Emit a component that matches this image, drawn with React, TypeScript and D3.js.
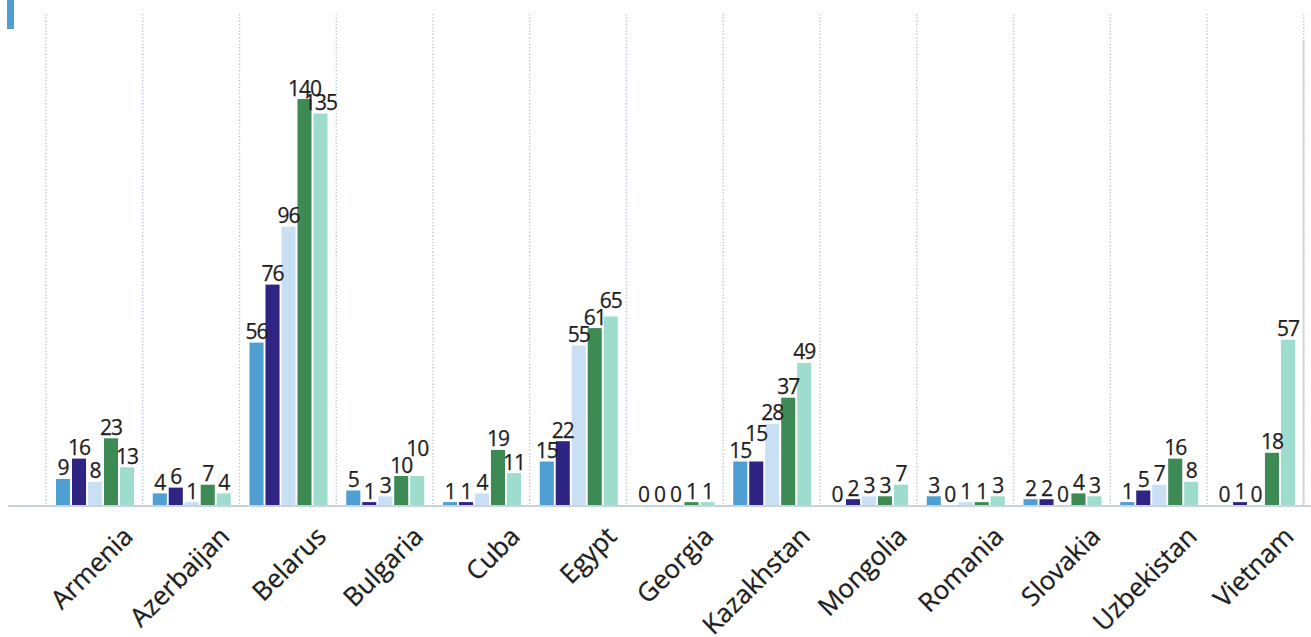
import { useMemo } from "react";
import * as d3 from "d3";

const COUNTRIES = [
  "Armenia", "Azerbaijan", "Belarus", "Bulgaria", "Cuba", "Egypt", "Georgia",
  "Kazakhstan", "Mongolia", "Romania", "Slovakia", "Uzbekistan", "Vietnam",
];

const SERIES = ["s1", "s2", "s3", "s4", "s5"];
const SERIES_COLORS = ["#4f9fd2", "#2f2482", "#c9e0f4", "#3d8a55", "#9edccd"];

const S1 = [9, 4, 56, 5, 1, 15, 0, 15, 0, 3, 2, 1, 0];
const S2 = [16, 6, 76, 1, 1, 22, 0, 15, 2, 0, 2, 5, 1];
const S3 = [8, 1, 96, 3, 4, 55, 0, 28, 3, 1, 0, 7, 0];
const S4 = [23, 7, 140, 10, 19, 61, 1, 37, 3, 1, 4, 16, 18];
const S5 = [13, 4, 135, 10, 11, 65, 1, 49, 7, 3, 3, 8, 57];
const VALUES = [S1, S2, S3, S4, S5];

const W = 1311;
const H = 637;
const BASE = 505;
const LEFT = 46;
const STEP = 96.75;
const FONT = "'Open Sans', sans-serif";
const LABEL_H = 13;
const LABEL_SHIFT = 17;

type Label = { key: string; x: number; y: number; text: string; w: number };

export default function App() {
  const x0 = d3.scaleBand<string>().domain(COUNTRIES).range([LEFT, LEFT + STEP * COUNTRIES.length]);
  const x1 = d3.scaleBand<string>().domain(SERIES).range([10, 88]).paddingInner(0.12);
  const y = d3.scaleLinear().domain([0, 140]).range([BASE, BASE - 406]);

  const labels = useMemo(() => {
    const out: Label[] = [];
    COUNTRIES.forEach((c, ci) => {
      const placed: Label[] = [];
      SERIES.forEach((s, si) => {
        const v = VALUES[si][ci];
        const text = String(v);
        const lab: Label = {
          key: `${c}-${s}`,
          x: (x0(c) ?? 0) + (x1(s) ?? 0) + x1.bandwidth() / 2,
          y: y(v) - 3.5,
          text,
          w: text.length * 10.8,
        };
        // push up while it collides with an earlier label in the group
        for (let iter = 0; iter < 20; iter++) {
          let moved = false;
          for (const p of placed) {
            const hx = Math.abs(lab.x - p.x) < (lab.w + p.w) / 2;
            const vy = lab.y > p.y - LABEL_H && lab.y - LABEL_H < p.y;
            if (hx && vy) {
              lab.y = p.y - LABEL_SHIFT;
              moved = true;
            }
          }
          if (!moved) break;
        }
        placed.push(lab);
        out.push(lab);
      });
    });
    return out;
  }, []);

  const edges = d3.range(COUNTRIES.length + 1).map((i) => LEFT + i * STEP);

  return (
    <div style={{ position: "absolute", left: 0, top: 0 }}>
      <svg width={W} height={H} style={{ display: "block", background: "#fff" }}>
        <rect x={7} y={0} width={7} height={29} fill="#4f9fd2" />

        {edges.map((ex, i) => (
          <line
            key={i}
            x1={ex}
            x2={ex}
            y1={14}
            y2={BASE}
            stroke="#b4c2d2"
            strokeWidth={1.3}
            strokeDasharray="1.3,2"
          />
        ))}
        <line x1={1303.5} x2={1303.5} y1={40} y2={BASE} stroke="#d4d7db" strokeWidth={2} />

        {COUNTRIES.map((c, ci) => (
          <g key={c} transform={`translate(${x0(c)},0)`}>
            {SERIES.map((s, si) => {
              const v = VALUES[si][ci];
              return (
                <rect
                  key={s}
                  x={x1(s)}
                  y={y(v)}
                  width={x1.bandwidth()}
                  height={BASE - y(v)}
                  fill={SERIES_COLORS[si]}
                />
              );
            })}
          </g>
        ))}

        <line x1={8} x2={W} y1={BASE + 1} y2={BASE + 1} stroke="#c9d3de" strokeWidth={2} />

        {labels.map((l) => (
          <text
            key={l.key}
            x={l.x}
            y={l.y}
            textAnchor="middle"
            fill="#1e1e1e"
            stroke="#1e1e1e"
            strokeWidth={0.25}
            style={{ fontFamily: FONT, fontSize: 21, letterSpacing: "-1px" }}
          >
            {l.text}
          </text>
        ))}

        {COUNTRIES.map((c) => {
          const cx = (x0(c) ?? 0) + x0.bandwidth() / 2;
          return (
            <text
              key={c}
              transform={`translate(${cx + 40},538) rotate(-45)`}
              textAnchor="end"
              fill="#1e1e1e"
              stroke="#1e1e1e"
              strokeWidth={0.3}
              style={{ fontFamily: FONT, fontSize: 26 }}
            >
              {c}
            </text>
          );
        })}
      </svg>
    </div>
  );
}
